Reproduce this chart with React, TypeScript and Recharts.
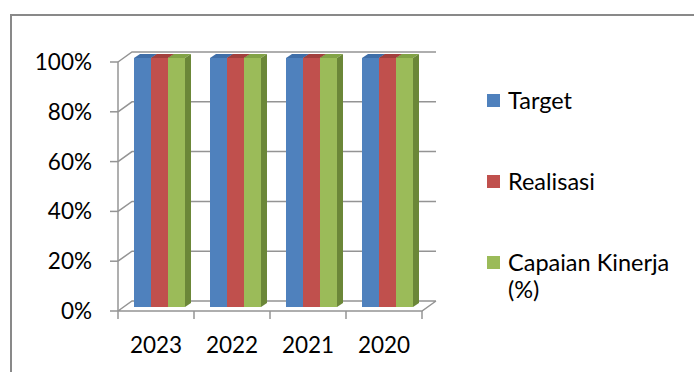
import { BarChart, Bar, XAxis, YAxis, CartesianGrid, Legend } from 'recharts'

const years = ['2023', '2022', '2021', '2020']
const target = [1, 1, 1, 1]
const realisasi = [1, 1, 1, 1]
const capaian = [1, 1, 1, 1]
const yTicks = [0, 0.2, 0.4, 0.6, 0.8, 1]

const data = years.map((year, i) => ({
  year,
  target: target[i],
  realisasi: realisasi[i],
  capaian: capaian[i],
}))

const series = [
  { key: 'target', name: 'Target', fill: '#4F81BD', top: '#3F6EA8', side: '#385D8A' },
  { key: 'realisasi', name: 'Realisasi', fill: '#C0504D', top: '#A2403D', side: '#8C3836' },
  { key: 'capaian', name: 'Capaian Kinerja (%)', fill: '#9BBB59', top: '#82A346', side: '#6B8738' },
]

const W = 694
const H = 372
const Y_W = 60
const X_H = 40
const margin = { top: 62, right: 272, bottom: 21, left: 58 }
const PLOT_LEFT = margin.left + Y_W
const PLOT_BOTTOM = H - margin.bottom - X_H
const BAND = (W - margin.right - PLOT_LEFT) / years.length

// depth of the fake 3d wall / bars
const DX = 14
const DY = 10
const BX = 3
const BY = -4
const D = 6
const D2 = 4

const GRID = '#949494'
const FONT = 'Lato, "Open Sans", sans-serif'

function WallLine(props: any) {
  const { x1, x2, y1 } = props
  let d = `M${x1},${y1} L${x1 + DX},${y1 - DY} L${x2 + DX},${y1 - DY}`
  if (Math.abs(y1 - PLOT_BOTTOM) < 1) {
    d += ` M${x1},${y1} L${x2},${y1} L${x2 + DX},${y1 - DY}`
  }
  return <path key={`wall-${y1}`} d={d} stroke={GRID} strokeWidth={1.5} fill="none" />
}

function Box3D(props: any) {
  const { x, y, width, height, front, top, side } = props
  const fx = x + BX
  const fy = y + BY
  return (
    <g>
      <rect x={fx} y={fy} width={width} height={height} fill={front} />
      <polygon
        points={`${fx},${fy} ${fx + D},${fy - D2} ${fx + width + D},${fy - D2} ${fx + width},${fy}`}
        fill={top}
      />
      <polygon
        points={`${fx + width},${fy} ${fx + width + D},${fy - D2} ${fx + width + D},${fy + height - D2} ${fx + width},${fy + height}`}
        fill={side}
      />
    </g>
  )
}

function YearTick(props: any) {
  const { x, payload, index } = props
  const left = x - BAND / 2
  const right = x + BAND / 2
  return (
    <g>
      <line x1={left} y1={PLOT_BOTTOM} x2={left} y2={PLOT_BOTTOM + 8} stroke={GRID} strokeWidth={1.5} />
      {index === years.length - 1 && (
        <line x1={right} y1={PLOT_BOTTOM} x2={right} y2={PLOT_BOTTOM + 8} stroke={GRID} strokeWidth={1.5} />
      )}
      <text x={x} y={PLOT_BOTTOM + 26} dy="0.71em" textAnchor="middle" fill="#000" fontSize={22.5} fontFamily={FONT}>
        {payload.value}
      </text>
    </g>
  )
}

function LegendBox(props: any) {
  const payload: any[] = props.payload || []
  const entries = series
    .map((s) => payload.find((e: any) => e.value === s.name))
    .filter(Boolean)
  return (
    <div style={{ position: 'relative', fontFamily: FONT, fontSize: 23.5, lineHeight: '27px', color: '#000' }}>
      {entries.map((entry: any, i: number) => (
        <div
          key={entry.value}
          style={{ position: 'absolute', left: 0, top: i * 81, display: 'flex', alignItems: 'flex-start' }}
        >
          <span style={{ width: 13, height: 13, marginTop: 7, marginRight: 8, background: entry.color, flexShrink: 0 }} />
          <span style={{ width: 180 }}>{entry.value}</span>
        </div>
      ))}
    </div>
  )
}

export default function App() {
  return (
    <div style={{ position: 'fixed', left: 0, top: 0, width: W, height: H, overflow: 'hidden', background: '#fff' }}>
      <div
        style={{
          position: 'absolute',
          left: 10,
          top: 14,
          width: 740,
          height: 420,
          border: '2px solid #898989',
          boxSizing: 'border-box',
        }}
      />
      <div style={{ position: 'absolute', left: 0, top: 0 }}>
        <BarChart width={W} height={H} data={data} margin={margin} barGap={0} barSize={17}>
          <CartesianGrid vertical={false} horizontal={(p: any) => <WallLine {...p} />} />
          <XAxis
            dataKey="year"
            height={X_H}
            axisLine={false}
            tickLine={false}
            interval={0}
            tick={(p: any) => <YearTick {...p} />}
          />
          <YAxis
            width={Y_W}
            domain={[0, 1]}
            ticks={yTicks}
            interval={0}
            tickFormatter={(v: number) => `${Math.round(v * 100)}%`}
            tickSize={8}
            tickMargin={18}
            axisLine={{ stroke: GRID, strokeWidth: 1.5 }}
            tickLine={{ stroke: GRID, strokeWidth: 1.5 }}
            tick={{ fill: '#000', fontSize: 22.5, fontFamily: FONT }}
          />
          <Legend
            layout="vertical"
            align="center"
            verticalAlign="middle"
            content={(p: any) => <LegendBox {...p} />}
            wrapperStyle={{ position: 'absolute', left: 487, top: 87, width: 205, height: 200 }}
          />
          {series.map((s) => (
            <Bar
              key={s.key}
              dataKey={s.key}
              name={s.name}
              fill={s.fill}
              isAnimationActive={false}
              shape={(p: any) => <Box3D {...p} front={s.fill} top={s.top} side={s.side} />}
            />
          ))}
        </BarChart>
      </div>
    </div>
  )
}
